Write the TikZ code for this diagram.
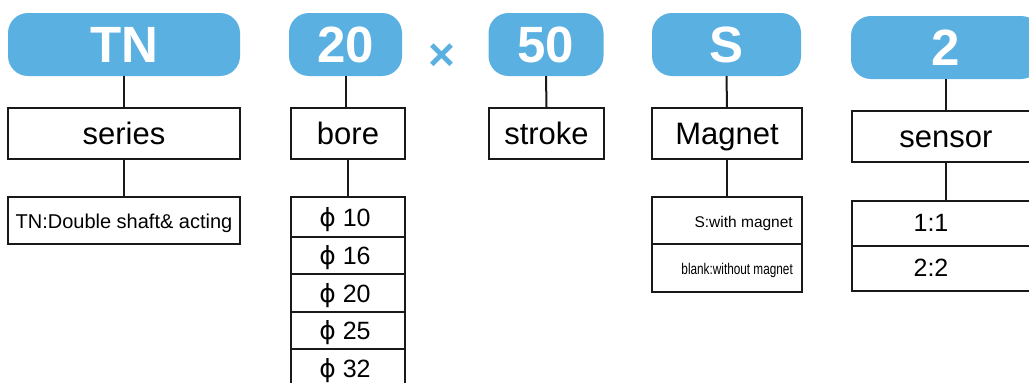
\documentclass[tikz,border=0pt]{standalone}
\usepackage{fontspec}
\setmainfont{Liberation Sans}
\newfontfamily\dejavu{DejaVu Sans}
\definecolor{pillblue}{RGB}{91,176,226}
\begin{document}
\begin{tikzpicture}[x=1pt,y=-1pt,
  pill/.style={fill=pillblue, rounded corners=20pt, minimum height=63pt, inner sep=0pt, text=white, font=\fontsize{51}{51}\selectfont\bfseries},
  box/.style={draw=black!90, line width=2pt, minimum height=51pt, inner sep=0pt, text height=22pt, text depth=0pt, font=\fontsize{31}{31}\selectfont},
  cell/.style={draw=black!90, line width=2pt, inner sep=0pt},
  phicell/.style={cell, minimum width=114pt, text height=18pt, text depth=0pt, font=\fontsize{25}{25}\selectfont},
  small/.style={inner sep=0pt, font=\fontsize{15.5}{15.5}\selectfont},
  conn/.style={draw=black!90, line width=2pt}]
\useasboundingbox (0,0) rectangle (1029,383);
\clip (0,0) rectangle (1029,383);
% pills
\node[pill, minimum width=232pt] (pTN) at (124,44.5) {TN};
\node[pill, minimum width=113pt] (p20) at (345.5,44.5) {20};
\node[text=pillblue, inner sep=0pt, font=\fontsize{46}{46}\selectfont\bfseries] (times) at (442,57) {×};
\node[pill, minimum width=115pt] (p50) at (546,44.5) {50};
\node[pill, minimum width=149pt] (pS) at (726.5,44.5) {S};
\node[pill, minimum width=190pt] (p2) at (946,47.5) {2};
% row 2
\node[box, minimum width=232pt] (series) at (124,133.5) {series};
\node[box, minimum width=114pt] (bore) at (348,133.5) {bore};
\node[box, minimum width=115pt] (stroke) at (546.5,133.5) {stroke};
\node[box, minimum width=150pt] (magnet) at (727,133.5) {Magnet};
\node[box, minimum width=188pt] (sensor) at (946,136.5) {sensor};
% row 3
\node[cell, minimum width=232pt, minimum height=47pt, text height=15pt, text depth=0pt, font=\fontsize{20}{20}\selectfont] (tndesc) at (124,220.5) {TN:Double shaft\&\ acting};
\node[phicell, minimum height=40pt] (phi1) at (348,217) {\hspace*{-6pt}{\dejavu ϕ} 10};
\node[phicell, minimum height=37pt] (phi2) at (348,255.5) {\hspace*{-6pt}{\dejavu ϕ} 16};
\node[phicell, minimum height=38pt] (phi3) at (348,293) {\hspace*{-6pt}{\dejavu ϕ} 20};
\node[phicell, minimum height=37pt] (phi4) at (348,330.5) {\hspace*{-6pt}{\dejavu ϕ} 25};
\node[phicell, minimum height=38pt] (phi5) at (348,368) {\hspace*{-6pt}{\dejavu ϕ} 32};
\node[cell, minimum width=150pt, minimum height=47pt] (mag1) at (727,220.5) {};
\node[cell, minimum width=150pt, minimum height=48pt] (mag2) at (727,268) {};
\node[small, anchor=base east] (mag1t) at (793,227) {S:with\ magnet};
\node[small, anchor=base east] (mag2t) at (793,274) {\scalebox{0.76}[1]{blank:without magnet}};
\node[cell, minimum width=188pt, minimum height=45pt] (sen1) at (946,223.5) {};
\node[cell, minimum width=188pt, minimum height=45pt] (sen2) at (946,268.5) {};
\node[inner sep=0pt, font=\fontsize{25}{25}\selectfont] (sen1t) at (931,223) {1:1};
\node[inner sep=0pt, font=\fontsize{25}{25}\selectfont] (sen2t) at (931,268) {2:2};
% connectors
\draw[conn] (pTN.south) -- (series.north);
\draw[conn] (series.south) -- (tndesc.north);
\draw[conn] (p20.south) -- (p20.south |- bore.north);
\draw[conn] (bore.south) -- (phi1.north);
\draw[conn] (p50.south) -- (stroke.north);
\draw[conn] (pS.south) -- (magnet.north);
\draw[conn] (magnet.south) -- (mag1.north);
\draw[conn] (p2.south) -- (sensor.north);
\draw[conn] (sensor.south) -- (sen1.north);
\end{tikzpicture}
\end{document}
